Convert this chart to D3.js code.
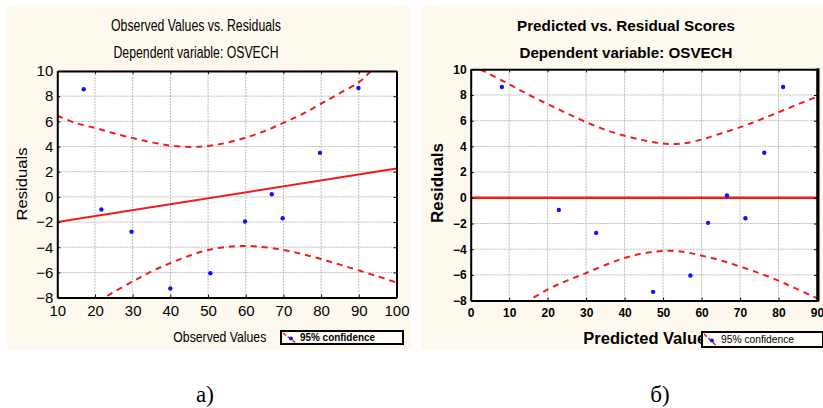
<!DOCTYPE html>
<html><head><meta charset="utf-8">
<script src="https://cdn.jsdelivr.net/npm/d3@7"></script>
<style>body{margin:0;background:#fff}svg{display:block}</style>
</head><body>
<svg id="c" width="823" height="408"></svg>
<script>
// ---- Panel a) Observed Values vs. Residuals ----
const obsX      = [17.0, 21.7, 29.7, 40.0, 50.6, 59.8, 66.9, 69.8, 79.7, 89.9];
const obsResid  = [8.55, -1.0, -2.76, -7.27, -6.06, -1.96, 0.21, -1.70, 3.50, 8.65];
const obsFitX   = [10, 100];
const obsFitY   = [-2.0, 2.25];
const obsUpX    = [10, 15.1, 20.4, 25, 30.2, 35.5, 40.8, 46.1, 49.6, 55.0, 60.3, 65, 70, 75, 80, 85, 90, 93.2, 95];
const obsUpY    = [6.45, 5.85, 5.45, 5.05, 4.66, 4.31, 4.05, 3.97, 4.03, 4.3, 4.74, 5.22, 5.88, 6.58, 7.4, 8.25, 9.1, 10.0, 10.6];
const obsLoX    = [21, 22.6, 25, 30, 35, 40, 45, 50, 55, 58.5, 63, 70, 75, 80, 85, 90, 95, 100];
const obsLoY    = [-8.4, -8.0, -7.55, -6.72, -5.92, -5.26, -4.68, -4.22, -3.97, -3.9, -3.94, -4.21, -4.55, -4.94, -5.38, -5.84, -6.31, -6.8];
const obsXTicks = [10, 20, 30, 40, 50, 60, 70, 80, 90, 100];
const obsYTicks = [-8, -6, -4, -2, 0, 2, 4, 6, 8, 10];

// ---- Panel б) Predicted vs. Residual Scores ----
const predX      = [8.1, 22.9, 32.6, 47.4, 57.1, 61.7, 66.6, 71.4, 76.3, 81.2];
const predResid  = [8.62, -0.94, -2.73, -7.32, -6.05, -1.95, 0.18, -1.59, 3.51, 8.62];
const predZeroX  = [0, 90];
const predZeroY  = [0, 0];
const predUpX    = [0, 2.6, 9.2, 15.3, 21.4, 27.4, 33.5, 39.5, 45, 49.1, 52.6, 56.0, 60, 63.8, 70.7, 75, 79.4, 84, 88.9, 91];
const predUpY    = [10.4, 9.98, 8.96, 7.98, 7.09, 6.24, 5.46, 4.87, 4.47, 4.25, 4.19, 4.27, 4.53, 4.89, 5.56, 6.05, 6.58, 7.15, 7.74, 8.0];
const predLoX    = [14, 15.4, 20.6, 24.9, 28.4, 31.4, 36.1, 39.6, 43.9, 48.2, 51.7, 55.1, 58.6, 64.7, 68.1, 75.0, 80.2, 83.7, 88.9, 91];
const predLoY    = [-8.25, -7.94, -7.05, -6.46, -6.05, -5.68, -5.1, -4.72, -4.38, -4.18, -4.13, -4.2, -4.4, -4.85, -5.16, -5.86, -6.48, -6.95, -7.66, -7.95];
const predXTicks = [0, 10, 20, 30, 40, 50, 60, 70, 80, 90];
const predYTicks = [-8, -6, -4, -2, 0, 2, 4, 6, 8, 10];

const svg = d3.select("#c");
const RED = "#f01c1c", BLUE = "#1010ff", BG = "#fdf9ee";
const NARROW = "'Liberation Sans Narrow','Arial Narrow','Liberation Sans',Arial,sans-serif";
const SANS = "'Liberation Sans',Arial,sans-serif";

function fitText(sel, w) {
  sel.attr("textLength", w).attr("lengthAdjust", "spacingAndGlyphs");
}

function panel(o) {
  const g = svg.append("g");
  g.append("rect").attr("x", o.bg[0]).attr("y", o.bg[1]).attr("width", o.bg[2]).attr("height", o.bg[3]).attr("fill", BG);

  const x = d3.scaleLinear().domain(o.xDom).range([o.px0, o.px1]);
  const y = d3.scaleLinear().domain(o.yDom).range([o.py1, o.py0]);

  g.append("rect").attr("x", o.px0).attr("y", o.py0).attr("width", o.px1 - o.px0).attr("height", o.py1 - o.py0).attr("fill", "#fff");

  // grid
  g.append("g").selectAll("line").data(o.xTicks).join("line")
    .attr("x1", d => x(d)).attr("x2", d => x(d)).attr("y1", o.py0).attr("y2", o.py1)
    .attr("stroke", "#bcbcbc").attr("stroke-width", 1).attr("stroke-dasharray", "2,1");
  g.append("g").selectAll("line").data(o.yTicks).join("line")
    .attr("y1", d => y(d)).attr("y2", d => y(d)).attr("x1", o.px0).attr("x2", o.px1)
    .attr("stroke", "#bcbcbc").attr("stroke-width", 1).attr("stroke-dasharray", "2,1");

  const clipId = "clip" + o.id;
  g.append("clipPath").attr("id", clipId).append("rect")
    .attr("x", o.px0).attr("y", o.py0).attr("width", o.px1 - o.px0).attr("height", o.py1 - o.py0);
  const plot = g.append("g").attr("clip-path", `url(#${clipId})`);

  const line = d3.line().x(d => x(d[0])).y(d => y(d[1])).curve(d3.curveCatmullRom.alpha(0.5));
  const straight = d3.line().x(d => x(d[0])).y(d => y(d[1]));

  plot.append("path").datum(d3.zip(o.fitX, o.fitY)).attr("d", straight)
    .attr("fill", "none").attr("stroke", RED).attr("stroke-width", o.fitW);
  [[o.upX, o.upY], [o.loX, o.loY]].forEach(([xs, ys]) => {
    plot.append("path").datum(d3.zip(xs, ys)).attr("d", line)
      .attr("fill", "none").attr("stroke", RED).attr("stroke-width", 2)
      .attr("stroke-dasharray", "6,5");
  });
  plot.append("g").selectAll("circle").data(d3.zip(o.ptX, o.ptY)).join("circle")
    .attr("cx", d => x(d[0])).attr("cy", d => y(d[1])).attr("r", 2.2).attr("fill", BLUE);

  // axes (D3 axes, ticks inward)
  const fw = o.fontWeight;
  const xa = g.append("g").attr("transform", `translate(0,${o.py1})`)
    .call(d3.axisBottom(x).tickValues(o.xTicks).tickSizeInner(-3).tickSizeOuter(0).tickPadding(8).tickFormat(d3.format("d")));
  const ya = g.append("g").attr("transform", `translate(${o.px0},0)`)
    .call(d3.axisLeft(y).tickValues(o.yTicks).tickSizeInner(-3).tickSizeOuter(0).tickPadding(4).tickFormat(d3.format("d")));
  g.append("g").attr("transform", `translate(0,${o.py0})`)
    .call(d3.axisTop(x).tickValues(o.xTicks).tickSizeInner(-3).tickSizeOuter(0).tickFormat(""));
  g.append("g").attr("transform", `translate(${o.px1},0)`)
    .call(d3.axisRight(y).tickValues(o.yTicks).tickSizeInner(-3).tickSizeOuter(0).tickFormat(""));
  g.selectAll(".domain").attr("stroke", "#000").attr("stroke-width", 2);
  g.selectAll(".tick line").attr("stroke", "#000").attr("stroke-width", 1);
  [xa, ya].forEach(a => a.selectAll("text").attr("font-family", o.tickFont).attr("font-size", o.tickSize)
    .attr("font-weight", fw).attr("fill", "#000"));
  if (o.rightFrameW) {
    g.append("line").attr("x1", o.px1 + 1).attr("x2", o.px1 + 1).attr("y1", o.py0 - 1).attr("y2", o.py1 + 1)
      .attr("stroke", "#000").attr("stroke-width", o.rightFrameW);
  }

  // titles
  const t1 = g.append("text").attr("x", o.titleX).attr("y", 30.5).attr("text-anchor", "middle")
    .attr("font-family", o.titleFont).attr("font-size", o.titleSize).attr("font-weight", fw).text(o.title1);
  const t2 = g.append("text").attr("x", o.titleX).attr("y", 57.5).attr("text-anchor", "middle")
    .attr("font-family", o.titleFont).attr("font-size", o.titleSize).attr("font-weight", fw).text(o.title2);
  fitText(t1, o.t1w); fitText(t2, o.t2w);

  const xt = g.append("text").attr("x", o.xTitleX).attr("y", o.xTitleY)
    .attr("font-family", o.xTitleFont).attr("font-size", o.xTitleSize).attr("font-weight", fw).text(o.xTitle);
  fitText(xt, o.xTitleW);
  const yt = g.append("text").attr("transform", `translate(${o.yTitleX},${o.yTitleY}) rotate(-90)`)
    .attr("text-anchor", "middle")
    .attr("font-family", SANS).attr("font-size", o.yTitleSize).attr("font-weight", fw).text("Residuals");
  fitText(yt, o.yTitleW);

  // legend
  const L = o.legend;
  g.append("rect").attr("x", L.x).attr("y", L.y).attr("width", L.w).attr("height", L.h)
    .attr("fill", "#fffdf7").attr("stroke", "#000").attr("stroke-width", 2);
  g.append("line").attr("x1", L.x + 2).attr("y1", L.y + 2).attr("x2", L.x + 14).attr("y2", L.y + L.h - 1.5)
    .attr("stroke", RED).attr("stroke-width", 1.5).attr("stroke-dasharray", "4,2");
  g.append("circle").attr("cx", L.x + 10).attr("cy", L.y + L.h / 2 + 1).attr("r", 2).attr("fill", BLUE);
  const lt = g.append("text").attr("x", L.x + 19).attr("y", L.y + L.h / 2 + 3.8)
    .attr("font-family", L.font).attr("font-size", L.size).attr("font-weight", L.weight).text("95% confidence");
  fitText(lt, L.tw);

  // caption
  g.append("text").attr("x", o.capX).attr("y", 402).attr("text-anchor", "middle")
    .attr("font-family", "'Liberation Serif','Times New Roman',serif").attr("font-size", 23).text(o.caption);
}

panel({
  id: "a", bg: [7, 6, 404, 343],
  xDom: [10, 100], yDom: [-8, 10], px0: 57.3, px1: 396.5, py0: 71, py1: 297.6,
  xTicks: obsXTicks, yTicks: obsYTicks,
  ptX: obsX, ptY: obsResid, fitX: obsFitX, fitY: obsFitY, fitW: 2,
  upX: obsUpX, upY: obsUpY, loX: obsLoX, loY: obsLoY,
  fontWeight: "normal", tickFont: NARROW, tickSize: 15,
  titleFont: NARROW, titleSize: 15.8, titleX: 196, title1: "Observed Values vs. Residuals", title2: "Dependent variable: OSVECH",
  t1w: 170, t2w: 165,
  xTitle: "Observed Values", xTitleX: 173.3, xTitleY: 342, xTitleFont: NARROW, xTitleSize: 15.5, xTitleW: 93,
  yTitleX: 27, yTitleY: 184, yTitleSize: 15, yTitleW: 73,
  legend: { x: 281, y: 331, w: 122, h: 13, font: NARROW, size: 11, weight: "bold", tw: 75 },
  capX: 205, caption: "а)"
});

panel({
  id: "b", bg: [421, 7, 402, 343],
  xDom: [0, 90], yDom: [-8, 10], px0: 470.7, px1: 817, py0: 69.3, py1: 300.6,
  xTicks: predXTicks, yTicks: predYTicks,
  ptX: predX, ptY: predResid, fitX: predZeroX, fitY: predZeroY, fitW: 2.5,
  upX: predUpX, upY: predUpY, loX: predLoX, loY: predLoY,
  fontWeight: "bold", tickFont: SANS, tickSize: 12,
  titleFont: SANS, titleSize: 15.2, titleX: 626, title1: "Predicted vs. Residual Scores", title2: "Dependent variable: OSVECH",
  t1w: 218, t2w: 213,
  xTitle: "Predicted Values", xTitleX: 583.3, xTitleY: 344, xTitleFont: SANS, xTitleSize: 16, xTitleW: 132,
  yTitleX: 443, yTitleY: 183, yTitleSize: 16.5, yTitleW: 80,
  rightFrameW: 3,
  legend: { x: 702, y: 332, w: 121, h: 15, font: SANS, size: 10, weight: "normal", tw: 73 },
  capX: 660, caption: "б)"
});
</script>
</body></html>
